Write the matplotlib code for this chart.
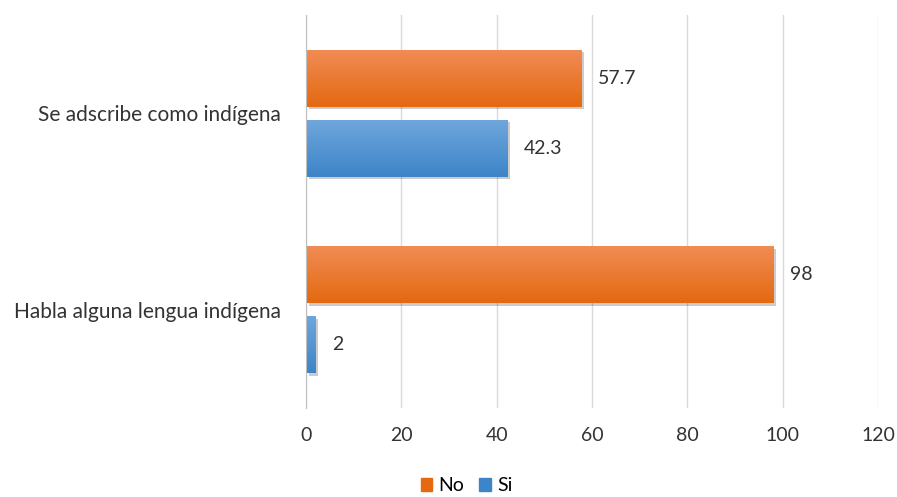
import numpy as np
import matplotlib.pyplot as plt
import matplotlib.patheffects as pe
from matplotlib.colors import LinearSegmentedColormap
from matplotlib.patches import Patch

plt.rcParams['font.family'] = ['Lato', 'DejaVu Sans']

categories = ['Habla alguna lengua indígena', 'Se adscribe como indígena']
no_values = [98, 57.7]
si_values = [2, 42.3]
no_labels = ['98', '57.7']
si_labels = ['2', '42.3']
xticks = [0, 20, 40, 60, 80, 100, 120]

orange_top, orange_bottom = '#f18c55', '#e46911'
blue_top, blue_bottom = '#6fa7dc', '#3d85c8'
text_color = '#333333'

fig = plt.figure(figsize=(8.97, 4.97), dpi=100)
ax = fig.add_axes([0.341, 0.179, 0.638, 0.791])

y = np.arange(len(categories))
h = 0.29
off = 0.178

shadow = [pe.SimplePatchShadow(offset=(2, -2), shadow_rgbFace='#000000', alpha=0.2), pe.Normal()]
bars_no = ax.barh(y + off, no_values, height=h, color=orange_bottom, zorder=3, path_effects=shadow)
bars_si = ax.barh(y - off, si_values, height=h, color=blue_bottom, zorder=3, path_effects=shadow)

def add_gradient(bars, top, bottom):
    cmap = LinearSegmentedColormap.from_list('g', [bottom, top])
    grad = np.linspace(0, 1, 64).reshape(-1, 1)
    for b in bars:
        x0, y0 = b.get_x(), b.get_y()
        w, hh = b.get_width(), b.get_height()
        im = ax.imshow(grad, cmap=cmap, origin='lower', aspect='auto',
                       extent=(x0, x0 + w, y0, y0 + hh), zorder=4)
        im.set_clip_path(b)

add_gradient(bars_no, orange_top, orange_bottom)
add_gradient(bars_si, blue_top, blue_bottom)

# value labels to the right of each bar
for bars, labels in [(bars_no, no_labels), (bars_si, si_labels)]:
    for b, lab in zip(bars, labels):
        ax.annotate(lab, (b.get_width(), b.get_y() + b.get_height() / 2), xytext=(12, 0),
                    textcoords='offset points', va='center', ha='left', fontsize=14, color=text_color)

ax.set_xlim(0, 120)
ax.set_ylim(-0.5, 1.5)
ax.set_xticks(xticks)
ax.set_yticks(y)
ax.set_yticklabels(categories)
ax.tick_params(axis='x', length=0, pad=14, labelsize=14, labelcolor=text_color)
ax.tick_params(axis='y', length=0, pad=18, labelsize=15, labelcolor=text_color)
ax.grid(axis='x', color='#d9d9d9', linewidth=1, zorder=0)
ax.set_axisbelow(True)
for s in ['top', 'right', 'bottom']:
    ax.spines[s].set_visible(False)
ax.spines['left'].set_color('#bfbfbf')
ax.spines['left'].set_zorder(5)

handles = [Patch(color=orange_bottom, label='No'), Patch(color=blue_bottom, label='Si')]
fig.legend(handles=handles, loc='lower center', ncol=2, frameon=False, fontsize=14,
           handlelength=0.6, handleheight=0.6, handletextpad=0.3, columnspacing=0.8,
           borderpad=0.2, bbox_to_anchor=(0.52, -0.022))

fig.savefig('out.png', dpi=100)
